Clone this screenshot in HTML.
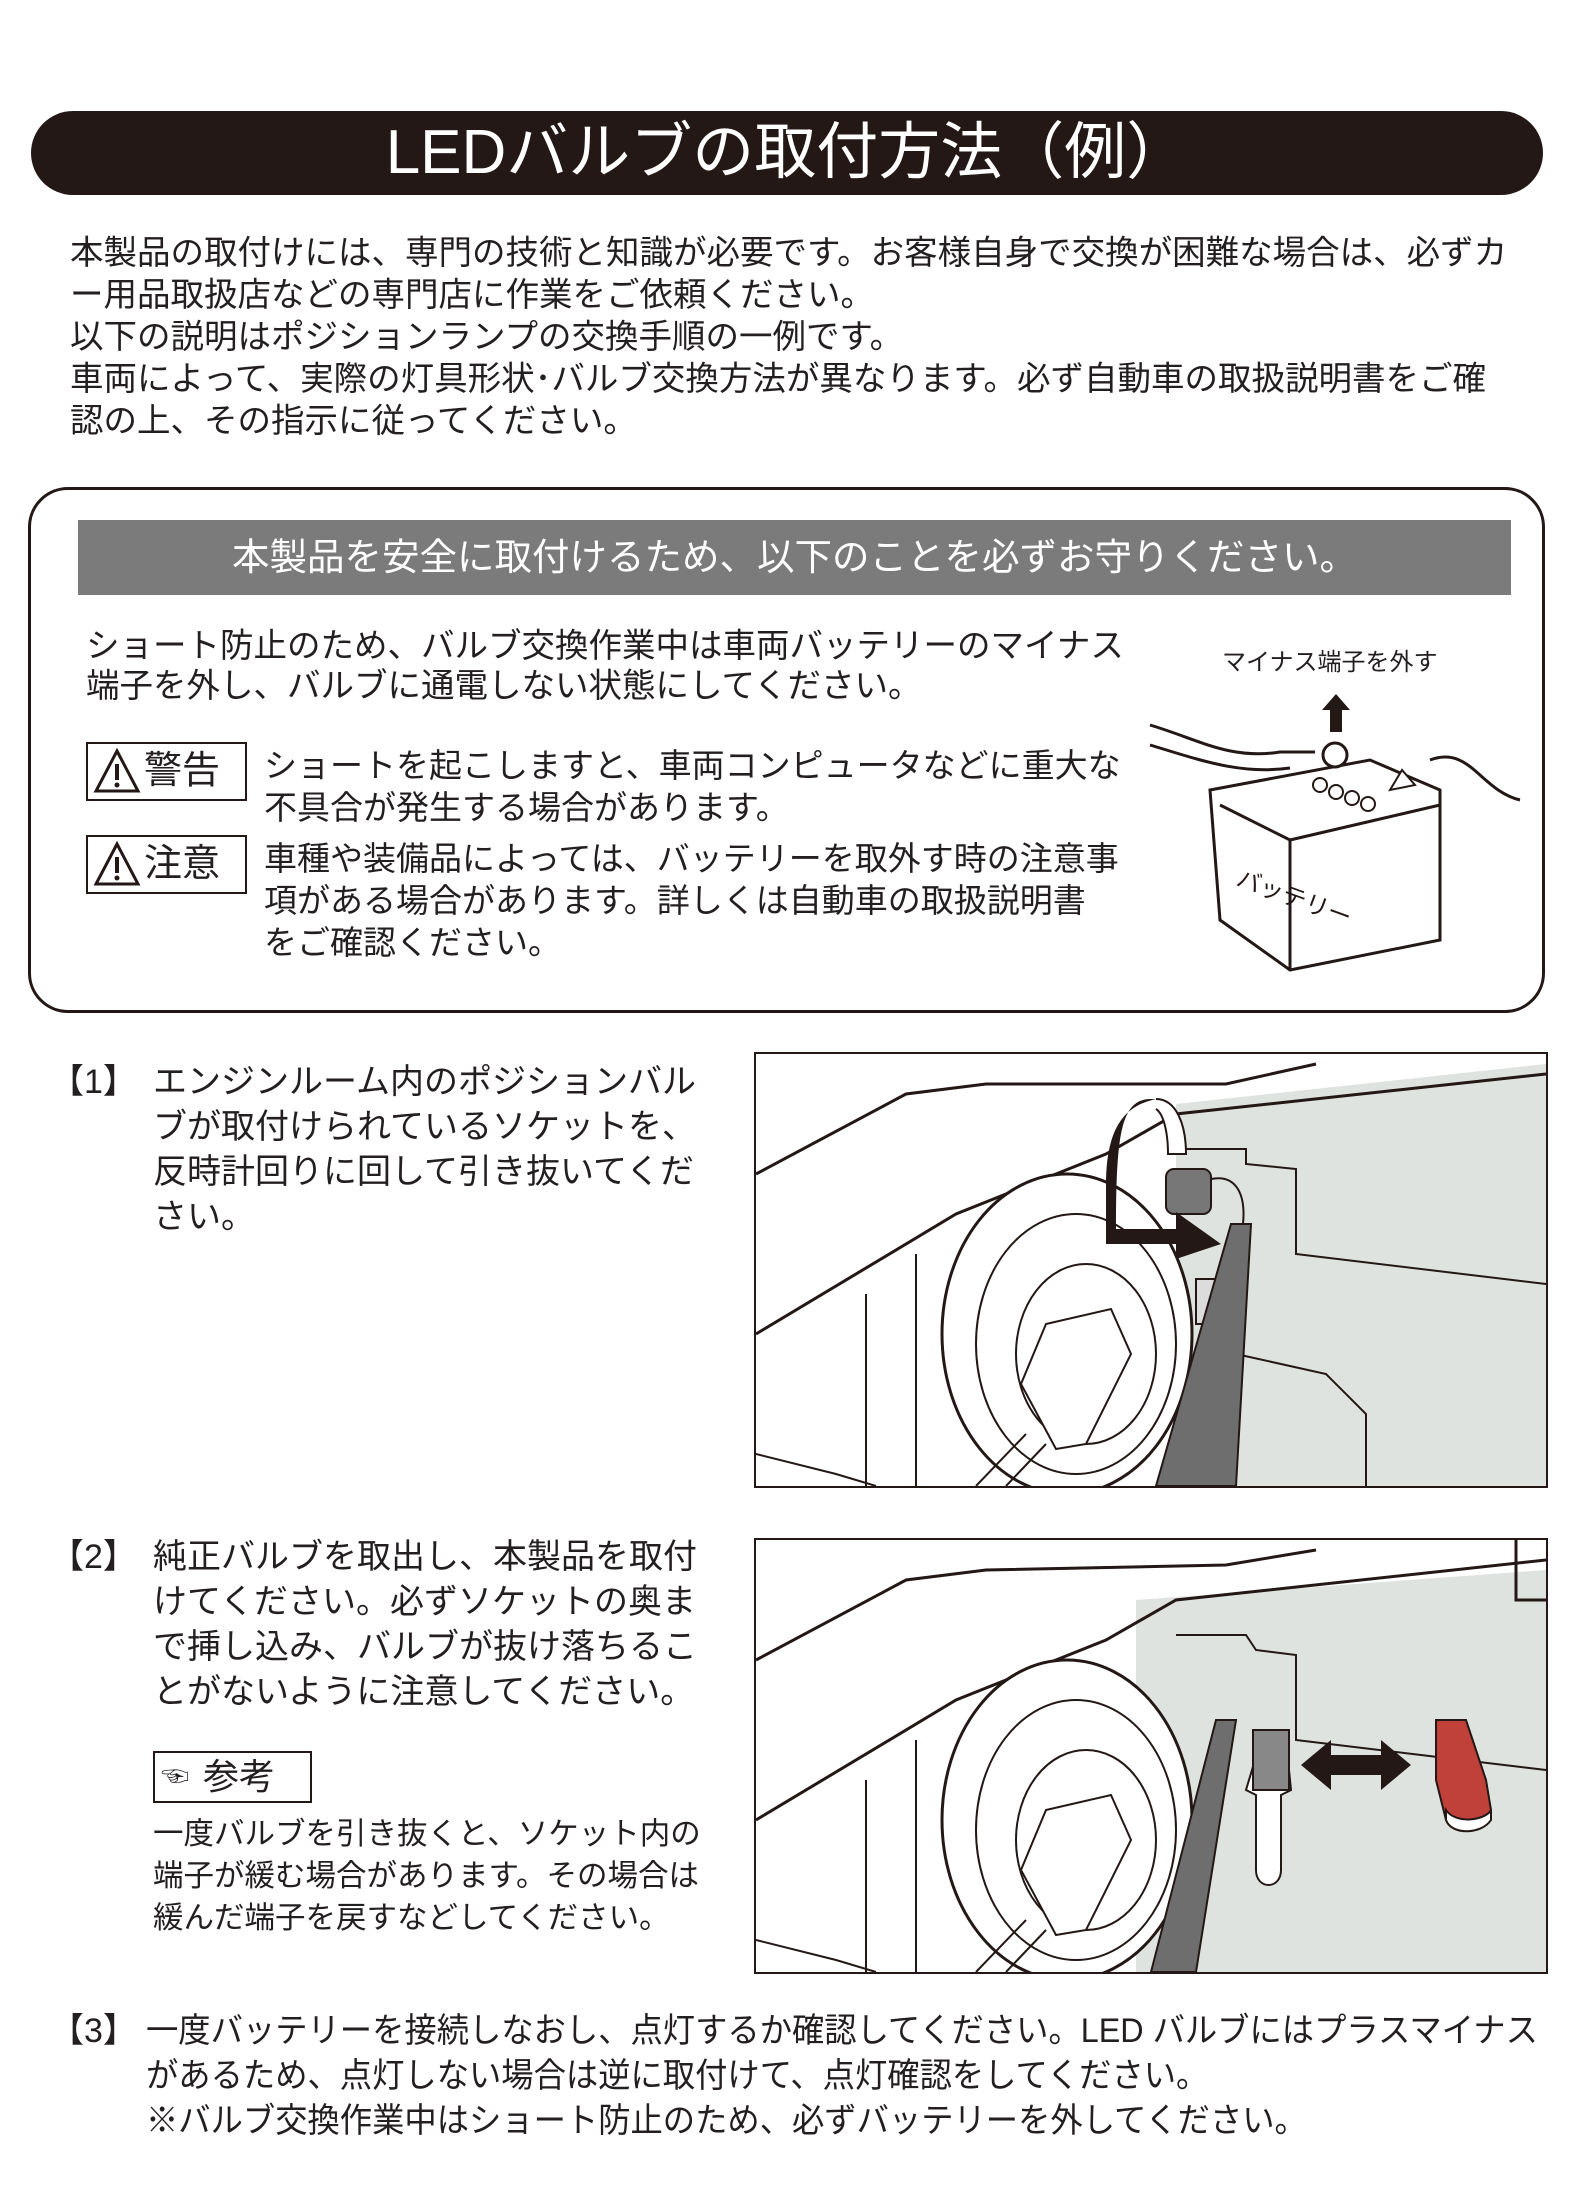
<!DOCTYPE html>
<html><head><meta charset="utf-8">
<style>
html,body{margin:0;padding:0;background:#fff;}
body{width:1572px;height:2190px;position:relative;overflow:hidden;font-family:"Liberation Sans","Noto Sans CJK JP",sans-serif;color:#231f20;}
.a{position:absolute;white-space:nowrap;}
.title{position:absolute;left:31px;top:111px;width:1512px;height:84px;background:#231815;border-radius:42px;color:#fff;font-size:62px;text-align:center;line-height:84px;}
.p{font-size:33.5px;line-height:42px;}
.box{position:absolute;left:28px;top:487px;width:1511px;height:520px;border:3px solid #231815;border-radius:40px;}
.band{position:absolute;left:78px;top:520px;width:1433px;height:75px;background:#7b7b7b;color:#fff;font-size:37.5px;line-height:75px;text-align:center;}
.lbl{position:absolute;border:2px solid #231815;height:55px;font-size:38px;line-height:55px;}
.s{font-size:34px;line-height:45px;}
.panel{position:absolute;border:2px solid #231815;overflow:hidden;}
</style></head><body>
<div class="title">LEDバルブの取付方法（例）</div>
<div class="a p" style="left:70px;top:233px;">本製品の取付けには、専門の技術と知識が必要です。お客様自身で交換が困難な場合は、必ずカ<br>ー用品取扱店などの専門店に作業をご依頼ください。<br>以下の説明はポジションランプの交換手順の一例です。<br>車両によって、実際の灯具形状･バルブ交換方法が異なります。必ず自動車の取扱説明書をご確<br>認の上、その指示に従ってください。</div>

<div class="box"></div>
<div class="band">本製品を安全に取付けるため、以下のことを必ずお守りください。</div>
<div class="a p" style="left:86px;top:627px;line-height:40px;">ショート防止のため、バルブ交換作業中は車両バッテリーのマイナス<br>端子を外し、バルブに通電しない状態にしてください。</div>
<div class="lbl" style="left:86px;top:742px;width:157px;"><svg width="50" height="50" style="position:absolute;left:4px;top:3px" viewBox="0 0 50 50"><path d="M25 4 L46 44 L4 44 Z" fill="none" stroke="#231815" stroke-width="3"/><rect x="23" y="17" width="4" height="16" fill="#231815"/><circle cx="25" cy="38" r="2.5" fill="#231815"/></svg><span style="position:absolute;left:56px;top:0">警告</span></div>
<div class="lbl" style="left:86px;top:835px;width:157px;"><svg width="50" height="50" style="position:absolute;left:4px;top:3px" viewBox="0 0 50 50"><path d="M25 4 L46 44 L4 44 Z" fill="none" stroke="#231815" stroke-width="3"/><rect x="23" y="17" width="4" height="16" fill="#231815"/><circle cx="25" cy="38" r="2.5" fill="#231815"/></svg><span style="position:absolute;left:56px;top:0">注意</span></div>
<div class="a p" style="left:264px;top:745px;font-size:33px;">ショートを起こしますと、車両コンピュータなどに重大な<br>不具合が発生する場合があります。</div>
<div class="a p" style="left:264px;top:838px;font-size:33px;">車種や装備品によっては、バッテリーを取外す時の注意事<br>項がある場合があります。詳しくは自動車の取扱説明書<br>をご確認ください。</div>
<div class="a" style="left:1222px;top:642px;font-size:24px;">マイナス端子を外す</div>
<svg class="a" style="left:1140px;top:680px" width="390" height="300" viewBox="0 0 390 300">
<path d="M196 14 L210 30 L202 30 L202 52 L190 52 L190 30 L182 30 Z" fill="#231815"/>
<path d="M10 45 C60 60 90 80 140 72 L175 72" fill="none" stroke="#231815" stroke-width="3"/>
<path d="M10 65 C60 80 100 95 150 88" fill="none" stroke="#231815" stroke-width="3"/>
<path d="M290 80 C330 65 340 110 380 120" fill="none" stroke="#231815" stroke-width="3"/>
<path d="M70 110 L230 80 L300 110 L300 260 L150 290 L80 240 Z" fill="#fff" stroke="#231815" stroke-width="3"/>
<path d="M80 125 L150 160 L300 125 M150 160 L150 290" fill="none" stroke="#231815" stroke-width="3"/>
<circle cx="195" cy="75" r="12" fill="#fff" stroke="#231815" stroke-width="3"/>
<circle cx="180" cy="105" r="7" fill="#fff" stroke="#231815" stroke-width="2"/>
<circle cx="196" cy="112" r="7" fill="#fff" stroke="#231815" stroke-width="2"/>
<circle cx="212" cy="118" r="7" fill="#fff" stroke="#231815" stroke-width="2"/>
<circle cx="228" cy="124" r="7" fill="#fff" stroke="#231815" stroke-width="2"/>
<path d="M250 110 L262 90 L275 105 Z" fill="#fff" stroke="#231815" stroke-width="2"/>
<text x="95" y="205" font-size="24" transform="rotate(20 95 205)" fill="#231815" font-family="Liberation Sans,Noto Sans CJK JP,sans-serif">バッテリー</text>
</svg>

<div class="a s" style="left:50px;top:1060px;">【1】</div>
<div class="a s" style="left:153px;top:1060px;">エンジンルーム内のポジションバル<br>ブが取付けられているソケットを、<br>反時計回りに回して引き抜いてくだ<br>さい。</div>
<div class="panel" style="left:754px;top:1052px;width:790px;height:432px;">
<svg width="790" height="432" viewBox="0 0 790 432">
<path d="M420 50 L790 10 L790 432 L420 432 Z" fill="#dfe3e0"/>
<path d="M0 120 L150 40 L230 30 L470 30 L560 10" fill="none" stroke="#231815" stroke-width="3"/>
<path d="M0 280 L200 160 L350 100 L420 60 L790 20" fill="none" stroke="#231815" stroke-width="3"/>
<path d="M420 95 L490 95 L490 110 L540 115 L540 200 L790 230" fill="none" stroke="#231815" stroke-width="2"/>
<path d="M480 300 L570 320 L610 360 L610 432" fill="none" stroke="#231815" stroke-width="2"/>
<path d="M0 400 L80 420 L120 432" fill="none" stroke="#231815" stroke-width="2"/>
<path d="M110 240 L110 432 M160 200 L160 432" fill="none" stroke="#231815" stroke-width="2"/>
<ellipse cx="311" cy="280" rx="125" ry="160" fill="#fff" stroke="#231815" stroke-width="3"/>
<ellipse cx="320" cy="290" rx="100" ry="130" fill="none" stroke="#231815" stroke-width="2"/>
<ellipse cx="330" cy="300" rx="70" ry="90" fill="none" stroke="#231815" stroke-width="2"/>
<path d="M290 270 L355 255 L375 300 L330 390 L300 395 L265 330 Z" fill="#fff" stroke="#231815" stroke-width="2"/>
<path d="M270 380 L220 432 M290 390 L250 432" stroke="#231815" stroke-width="2"/>
<rect x="440" y="225" width="35" height="45" fill="#dcdcdc" stroke="#231815" stroke-width="2"/>
<path d="M475 170 L495 170 L480 432 L400 432 Z" fill="#6e6e6e" stroke="#231815" stroke-width="2"/>
<rect x="410" y="115" width="45" height="45" rx="8" fill="#777" stroke="#231815" stroke-width="2"/>
<path d="M455 125 C480 120 490 140 487 170" fill="none" stroke="#231815" stroke-width="2"/>
<path d="M395 45 C365 45 360 80 360 175 L420 175 L420 158 L465 190 L420 205 L420 190 L350 190 L350 130 C350 60 380 50 400 45 Z" fill="#231815"/>
<path d="M400 45 C420 45 430 70 430 100 L412 100 C412 80 408 60 400 55" fill="#fff" stroke="#231815" stroke-width="2"/>
</svg></div>

<div class="a s" style="left:50px;top:1535px;">【2】</div>
<div class="a s" style="left:153px;top:1535px;">純正バルブを取出し、本製品を取付<br>けてください。必ずソケットの奥ま<br>で挿し込み、バルブが抜け落ちるこ<br>とがないように注意してください。</div>
<div class="lbl" style="left:153px;top:1751px;width:155px;height:48px;line-height:48px;font-size:36px;"><span style="position:absolute;left:6px;top:0;font-size:28px;">☜</span><span style="position:absolute;left:48px;top:0">参考</span></div>
<div class="a" style="left:153px;top:1813px;font-size:30.5px;line-height:42px;">一度バルブを引き抜くと、ソケット内の<br>端子が緩む場合があります。その場合は<br>緩んだ端子を戻すなどしてください。</div>
<div class="panel" style="left:754px;top:1538px;width:790px;height:432px;">
<svg width="790" height="432" viewBox="0 0 790 432">
<path d="M380 60 L790 30 L790 432 L380 432 Z" fill="#dfe3e0"/>
<path d="M0 120 L150 40 L230 30 L470 25 L560 10" fill="none" stroke="#231815" stroke-width="3"/>
<path d="M0 280 L200 160 L350 100 L420 60 L790 20" fill="none" stroke="#231815" stroke-width="3"/>
<path d="M760 0 L760 60 L790 60" fill="none" stroke="#231815" stroke-width="3"/>
<path d="M420 95 L490 95 L500 110 L540 115 L540 200 L790 230" fill="none" stroke="#231815" stroke-width="2"/>
<path d="M0 400 L80 420 L120 432" fill="none" stroke="#231815" stroke-width="2"/>
<path d="M110 240 L110 432 M160 200 L160 432" fill="none" stroke="#231815" stroke-width="2"/>
<ellipse cx="311" cy="280" rx="125" ry="160" fill="#fff" stroke="#231815" stroke-width="3"/>
<ellipse cx="320" cy="290" rx="100" ry="130" fill="none" stroke="#231815" stroke-width="2"/>
<ellipse cx="330" cy="300" rx="70" ry="90" fill="none" stroke="#231815" stroke-width="2"/>
<path d="M290 270 L355 255 L375 300 L330 390 L300 395 L265 330 Z" fill="#fff" stroke="#231815" stroke-width="2"/>
<path d="M270 380 L220 432 M290 390 L250 432" stroke="#231815" stroke-width="2"/>
<path d="M460 180 L480 180 L440 432 L395 432 Z" fill="#6e6e6e" stroke="#231815" stroke-width="2"/>
<path d="M505 200 L530 200 L535 250 L525 255 L525 330 C525 350 500 350 500 330 L500 255 L490 250 Z" fill="#fff" stroke="#231815" stroke-width="2"/>
<rect x="497" y="190" width="36" height="60" fill="#888" stroke="#231815" stroke-width="2"/>
<path d="M545 225 L575 200 L575 215 L625 215 L625 200 L655 225 L625 250 L625 235 L575 235 L575 250 Z" fill="#231815"/>
<path d="M680 180 L710 180 L730 240 L735 270 C735 285 700 290 690 280 L680 240 Z" fill="#c0403a" stroke="#231815" stroke-width="2"/>
<path d="M690 270 C700 285 730 280 735 270 L735 280 C725 295 695 295 690 280 Z" fill="#fff" stroke="#231815" stroke-width="2"/>
</svg></div>

<div class="a s" style="left:50px;top:2009px;">【3】</div>
<div class="a s" style="left:146px;top:2009px;transform:scaleX(0.95);transform-origin:0 0;">一度バッテリーを接続しなおし、点灯するか確認してください。LED バルブにはプラスマイナス<br>があるため、点灯しない場合は逆に取付けて、点灯確認をしてください。<br>※バルブ交換作業中はショート防止のため、必ずバッテリーを外してください。</div>
</body></html>
